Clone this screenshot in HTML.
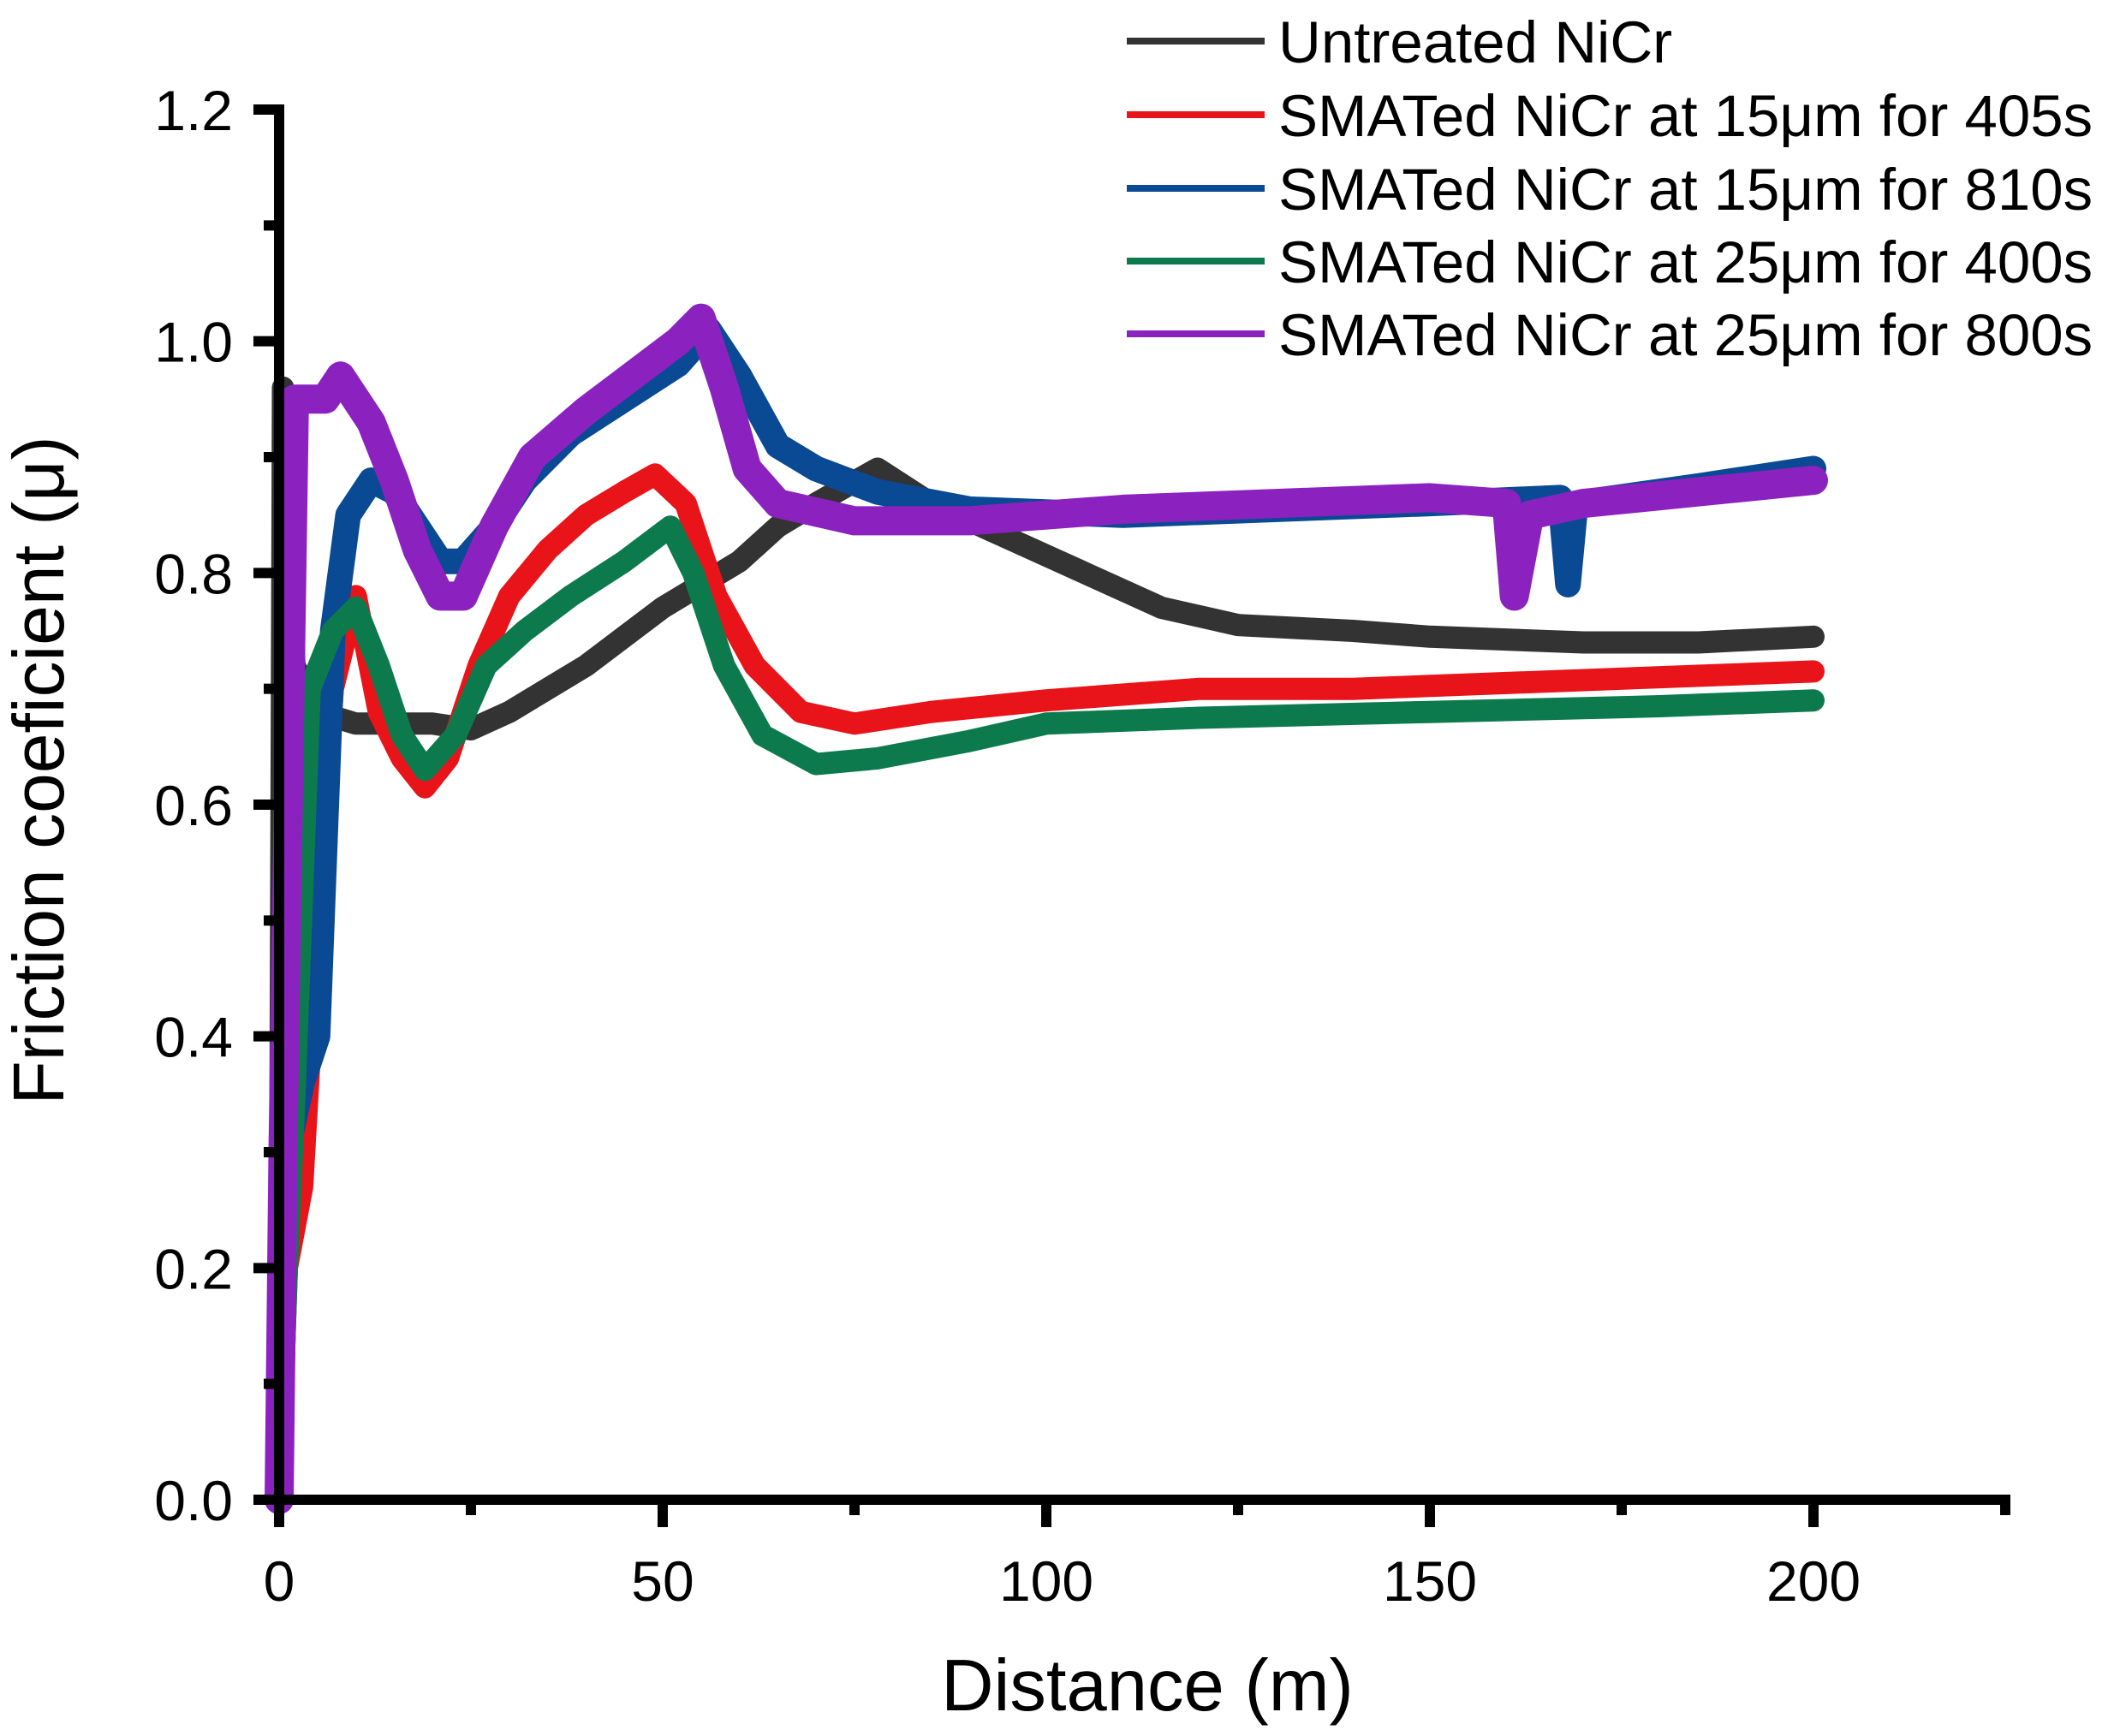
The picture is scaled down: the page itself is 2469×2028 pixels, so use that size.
<!DOCTYPE html>
<html>
<head>
<meta charset="utf-8">
<style>
html,body{margin:0;padding:0;background:#fff;}
svg{display:block;font-family:"Liberation Sans",Arial,sans-serif;}
</style>
</head>
<body>
<svg id="chart" width="2469" height="2028" viewBox="0 0 2469 2028" xmlns="http://www.w3.org/2000/svg">
  <g id="series"></g>
  <g id="axes"></g>
  <g id="legend"></g>
  <text x="0" y="0" transform="translate(74,900) rotate(-90)" text-anchor="middle" font-size="84">Friction coeficient (μ)</text>
  <text x="1340" y="1998" text-anchor="middle" font-size="85">Distance (m)</text>
</svg>
<script>
const xTicks = [0, 50, 100, 150, 200];
const yTicks = [0.0, 0.2, 0.4, 0.6, 0.8, 1.0, 1.2];
const yTickLabels = ["0.0","0.2","0.4","0.6","0.8","1.0","1.2"];
const seriesNames = ["Untreated NiCr","SMATed NiCr at 15μm for 405s","SMATed NiCr at 15μm for 810s","SMATed NiCr at 25μm for 400s","SMATed NiCr at 25μm for 800s"];
const seriesColors = ["#333333","#e8141a","#0a4a94","#0d7a4e","#8b22c0"];

const blackX = [0,0.5,2,5,10,15,20,25,30,40,50,55,60,65,70,78,85,95,105,115,125,140,150,170,185,200];
const blackY = [0,0.96,0.72,0.68,0.67,0.67,0.67,0.665,0.68,0.72,0.77,0.79,0.81,0.84,0.86,0.89,0.86,0.83,0.80,0.77,0.755,0.75,0.745,0.74,0.74,0.745];
const redX = [0,1,3,5,7,10,13,16,19,22,26,30,35,40,45,49,53,57,62,68,75,85,100,120,140,160,180,200];
const redY = [0,0.2,0.27,0.5,0.7,0.78,0.68,0.64,0.615,0.64,0.72,0.78,0.82,0.85,0.87,0.885,0.86,0.78,0.72,0.68,0.67,0.68,0.69,0.70,0.70,0.705,0.71,0.715];
const blueX = [0,1,3,5,7,9,12,15,18,21,24,28,32,38,45,52,56,60,65,70,78,90,110,130,150,167,168,169,185,200];
const blueY = [0,0.3,0.36,0.4,0.75,0.85,0.88,0.87,0.84,0.81,0.81,0.84,0.88,0.92,0.95,0.98,1.01,0.97,0.91,0.89,0.87,0.855,0.85,0.855,0.86,0.865,0.79,0.86,0.875,0.89];
const greenX = [0,1,2,4,7,10,13,16,19,23,27,32,38,45,51,54,58,63,70,78,90,100,120,150,180,200];
const greenY = [0,0.2,0.35,0.7,0.75,0.77,0.72,0.66,0.63,0.66,0.72,0.75,0.78,0.81,0.84,0.80,0.72,0.66,0.635,0.64,0.655,0.67,0.675,0.68,0.685,0.69];
const purpleX = [0,0.5,2,6,8,12,15,18,21,24,28,33,40,46,52,55,58,61,65,75,90,110,130,150,160,161,163,170,185,200];
const purpleY = [0,0.3,0.95,0.95,0.97,0.93,0.88,0.82,0.78,0.78,0.84,0.90,0.94,0.97,1.0,1.02,0.96,0.89,0.86,0.845,0.845,0.855,0.86,0.865,0.86,0.78,0.85,0.86,0.87,0.88];

const NS = "http://www.w3.org/2000/svg";
const X0 = 326, X1 = 2118, Y0 = 1752, Y1 = 128;
function sx(v){ return X0 + (v/200)*(X1-X0); }
function sy(v){ return Y0 - (v/1.2)*(Y0-Y1); }

const seriesG = document.getElementById('series');
const allX = [blackX, redX, blueX, greenX, purpleX];
const allY = [blackY, redY, blueY, greenY, purpleY];
const seriesKeys = ["untreated","smat-15-405","smat-15-810","smat-25-400","smat-25-800"];
const widths = [26, 26, 30, 26, 34];
for (let s = 0; s < allX.length; s++) {
  const pts = allX[s].map((x,i)=> sx(x).toFixed(1)+','+sy(allY[s][i]).toFixed(1)).join(' ');
  const pl = document.createElementNS(NS,'polyline');
  pl.setAttribute('points', pts);
  pl.setAttribute('fill','none');
  pl.setAttribute('stroke', seriesColors[s]);
  pl.setAttribute('stroke-width', widths[s]);
  pl.setAttribute('stroke-linejoin','round');
  pl.setAttribute('stroke-linecap','round');
  
  
  seriesG.appendChild(pl);
}

const axesG = document.getElementById('axes');
function addLine(x1,y1,x2,y2,w,name){
  const l = document.createElementNS(NS,'line');
  l.setAttribute('x1',x1); l.setAttribute('y1',y1); l.setAttribute('x2',x2); l.setAttribute('y2',y2);
  l.setAttribute('stroke','#000'); l.setAttribute('stroke-width',w);
  
  
  axesG.appendChild(l);
}
function addText(x,y,txt,anchor,size,name){
  const t = document.createElementNS(NS,'text');
  t.setAttribute('x',x); t.setAttribute('y',y); t.setAttribute('text-anchor',anchor);
  t.setAttribute('font-size',size);
  t.textContent = txt;
  
  
  axesG.appendChild(t);
}
addLine(X0, Y1-6, X0, Y0+6, 12, 'y-axis-line');
addLine(X0-6, Y0, sx(225)+6, Y0, 12, 'x-axis-line');
yTicks.forEach((v,i)=>{
  addLine(X0-30, sy(v), X0, sy(v), 12, 'y-tick');
  addText(272, sy(v)+24, yTickLabels[i], 'end', 66, 'y-tick-label');
  if (i < yTicks.length-1) addLine(X0-18, sy(v+0.1), X0, sy(v+0.1), 12, 'y-minor-tick');
});
xTicks.forEach(v=>{
  addLine(sx(v), Y0, sx(v), Y0+32, 12, 'x-tick');
  addText(sx(v), 1870, String(v), 'middle', 66, 'x-tick-label');
});
[25,75,125,175,225].forEach(v=>{
  addLine(sx(v), Y0, sx(v), Y0+18, 12, 'x-minor-tick');
});

const legG = document.getElementById('legend');
const legY = [48,134,220,305,390];
for (let s=0;s<seriesNames.length;s++){
  const l = document.createElementNS(NS,'line');
  l.setAttribute('x1',1316); l.setAttribute('x2',1477);
  l.setAttribute('y1',legY[s]); l.setAttribute('y2',legY[s]);
  l.setAttribute('stroke',seriesColors[s]); l.setAttribute('stroke-width',8);
  
  
  legG.appendChild(l);
  const t = document.createElementNS(NS,'text');
  t.setAttribute('x',1493); t.setAttribute('y',legY[s]+25);
  t.setAttribute('font-size',69);
  t.textContent = seriesNames[s];
  
  
  legG.appendChild(t);
}
</script>
</body>
</html>
